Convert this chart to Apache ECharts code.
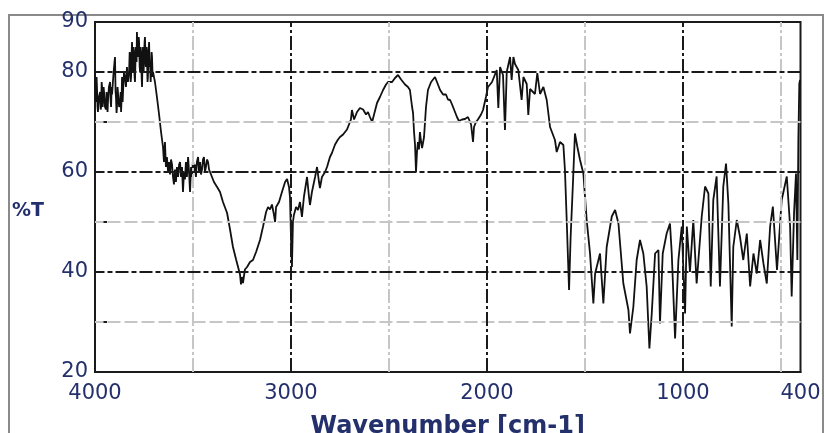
<!DOCTYPE html>
<html>
<head>
<meta charset="utf-8">
<script src="https://cdn.jsdelivr.net/npm/echarts@6/dist/echarts.min.js"></script>
<style>
  html, body { margin: 0; padding: 0; background: #fff; }
  #chart { width: 824px; height: 433px; }
</style>
</head>
<body>
<div id="chart"></div>
<script>
// IR transmission spectrum: wavenumber (cm-1) and %T
const wavenumber = [
  4000, 3997, 3995, 3992, 3990, 3987, 3985, 3980, 3974, 3971, 3969, 3966, 3964, 3961, 3959, 3956,
  3954, 3949, 3944, 3941, 3939, 3936, 3934, 3929, 3923, 3920, 3918, 3915, 3913, 3905, 3898, 3895,
  3893, 3890, 3888, 3885, 3883, 3877, 3872, 3869, 3867, 3864, 3862, 3859, 3857, 3852, 3847, 3842,
  3837, 3832, 3826, 3823, 3821, 3818, 3816, 3813, 3811, 3808, 3806, 3803, 3801, 3798, 3796, 3793,
  3791, 3788, 3786, 3783, 3780, 3777, 3775, 3772, 3770, 3767, 3765, 3762, 3760, 3757, 3755, 3752,
  3750, 3747, 3745, 3742, 3740, 3737, 3735, 3732, 3730, 3727, 3724, 3721, 3719, 3716, 3714, 3711,
  3709, 3706, 3704, 3694, 3684, 3673, 3663, 3653, 3648, 3643, 3638, 3633, 3627, 3622, 3617, 3612,
  3607, 3602, 3597, 3592, 3587, 3582, 3576, 3571, 3566, 3561, 3556, 3551, 3546, 3541, 3536, 3531,
  3525, 3520, 3515, 3510, 3505, 3500, 3495, 3490, 3485, 3480, 3474, 3469, 3464, 3459, 3454, 3449,
  3444, 3439, 3434, 3428, 3423, 3418, 3413, 3403, 3393, 3377,
  3362, 3347, 3326, 3311, 3296, 3280, 3270, 3260, 3255, 3250, 3245, 3235, 3224, 3209, 3194, 3178,
  3158, 3143, 3127, 3117, 3107, 3097, 3087, 3081, 3076, 3061, 3046, 3030, 3020, 3010, 3005, 3000,
  2995, 2990, 2985, 2974, 2964, 2954, 2944, 2934, 2918, 2908, 2903, 2893, 2877, 2867, 2857, 2852,
  2842, 2826, 2816, 2801, 2791, 2775, 2760, 2750, 2734, 2714, 2704, 2694, 2689, 2678, 2663, 2648,
  2632, 2617, 2607, 2597, 2586, 2576, 2561, 2546, 2530, 2515, 2505, 2495, 2484, 2469, 2454, 2438,
  2418, 2403, 2393, 2382, 2377, 2372, 2367, 2362, 2357, 2352, 2347, 2342, 2336, 2331, 2321, 2316,
  2311, 2301, 2285, 2275, 2265, 2255, 2239, 2224, 2209, 2199, 2188, 2178, 2163, 2153, 2143, 2127,
  2112, 2097, 2086, 2081, 2071, 2066, 2056, 2046, 2030, 2020, 2005, 1995, 1984, 1974, 1964, 1950,
  1942, 1933, 1918, 1908, 1899, 1882, 1874, 1865, 1857, 1840, 1823, 1814, 1797, 1789, 1780, 1755,
  1743, 1729, 1712, 1695, 1678, 1653, 1644, 1627, 1610, 1602, 1593, 1581, 1573, 1562, 1551, 1539,
  1525, 1508, 1491, 1474, 1457, 1448, 1423, 1406, 1389, 1363, 1346, 1329, 1304, 1278, 1270, 1253,
  1236, 1219, 1202, 1185, 1171, 1159, 1142, 1125, 1117, 1103, 1083, 1066, 1057, 1040, 1023, 1006,
  989, 980, 964, 947, 930, 904, 887, 870, 858, 845, 828, 811, 794, 780, 768, 751,
  743, 725, 709, 692, 674, 657, 640, 623, 606, 589, 572, 555, 541, 520, 496, 470,
  453, 445, 433, 423, 416, 411, 406, 402
];
const transmittance = [
  80.4, 76, 74, 79, 77, 73, 72, 75, 76, 72.5, 73, 78, 77, 73, 74.5, 77,
  76, 73, 72.5, 76, 75, 72, 74, 77, 78, 74, 73, 77, 75.5, 80, 83, 76,
  75, 71.8, 73, 77, 76, 73, 74, 76, 72, 75, 79, 74, 76, 80, 79, 77,
  81, 78, 80, 84, 83, 78, 79, 84, 86, 80, 82, 85, 84, 79, 78, 83,
  85, 82, 88, 84, 83, 87, 86, 81, 80, 85, 84, 79, 77, 83, 85, 80,
  82, 86, 87, 82, 81, 85, 84, 78, 79, 84, 86, 81, 82, 78, 80, 84,
  83, 79, 80, 78, 75, 71.5, 68, 65, 62, 66, 61, 63, 60, 62, 59.5, 62.5,
  61.5, 59, 57.5, 60.5, 58, 61, 59, 61.5, 62, 59, 61, 56, 60, 58.5, 62, 59,
  63, 60, 56, 61, 59, 62.5, 60, 61.5, 59, 62, 63, 60, 62, 59.5, 60.5, 62.5,
  63, 60, 61, 62.5, 62, 60.5, 60, 59, 58, 57,
  56, 54, 51.8, 48.5, 45, 42.5, 41, 39.5, 37.5, 39, 37.8, 40.5, 41, 42, 42.4, 44,
  46.4, 49, 52, 53, 52.5, 53.5, 51.5, 50, 53, 54, 56, 58, 58.6, 57, 55, 47,
  41, 50, 51.4, 53, 52.4, 54, 51, 55, 59, 55, 53.4, 56, 59, 61, 58, 56.8,
  59, 60, 61, 63, 63.8, 65.5, 66.5, 67, 67.5, 68.5, 69.5, 70.5, 72.4, 70.5, 72, 72.8,
  72.5, 71.5, 72, 71, 70, 71.5, 73.8, 75, 76.4, 77.5, 78, 78.4, 78, 78.8, 79.4, 78.5,
  77.5, 77, 76.4, 73, 71.8, 68, 65.5, 60, 64, 66, 64.5, 68, 66, 64.8, 67, 70,
  73, 76.4, 78, 78.5, 79, 78, 76.4, 75.5, 75.5, 74.5, 74.4, 73.5, 72, 71, 70.2, 70.5,
  70.6, 71, 70, 69.5, 66, 69, 70, 70.5, 71.5, 72.4, 75, 77, 77.5, 78, 79, 80.4,
  72.8, 81, 79.4, 68.4, 80, 83, 78.4, 83, 81.6, 80.4, 74.4, 79, 77.6, 71.4, 76.6, 75.6,
  79.8, 75.6, 77, 74.4, 69, 66.4, 64, 66, 65.4, 60.4, 50.4, 36.4, 47, 57, 67.7, 65.1,
  62.4, 59.7, 50.4, 43.7, 33.7, 39.7, 43.7, 33.7, 45, 51.1, 52.4, 49.7, 37.7, 32.4, 27.7, 33,
  42.4, 46.4, 43.7, 37.1, 24.7, 31.7, 43.7, 44.4, 29.7, 43.7, 47.7, 49.7, 43.7, 26.7, 42.4, 49.1,
  31.7, 49.1, 40, 50.4, 37.7, 51.1, 57.1, 55.7, 37.1, 54.4, 59.1, 37.1, 57.1, 61.7, 53.7, 29.1,
  45, 50.4, 47.1, 42.4, 47.7, 37.1, 43.7, 39.7, 46.4, 41.7, 37.7, 49.1, 53.1, 40.4, 54.4, 59.1,
  49.1, 35.1, 51.7, 59.7, 42.4, 66.4, 77.7, 78.4
];

// Axis labelling and grid positions
const xLabelValues = [4000, 3000, 2000, 1000, 400];
const xMinorTicks = [3500, 2500, 1500, 500];
const yLabelValues = [20, 40, 60, 80, 90];
const yMinorTicks = [30, 50, 70];
const xMajorGrid = [3000, 2000, 1000];
const xMinorGrid = [3500, 2500, 1500, 500];
const yMajorGrid = [80, 60, 40];
const yMinorGrid = [70, 50, 30];

const labelColor = '#23306b';
const ink = '#1a1a1a';
const faint = '#c6c6c6';

const gridLines = [].concat(
  yMinorGrid.map(v => ({ yAxis: v, lineStyle: { color: faint, width: 2, type: [13, 4] } })),
  xMinorGrid.map(v => ({ xAxis: v, lineStyle: { color: faint, width: 2, type: [14, 3, 3, 3] } })),
  yMajorGrid.map(v => ({ yAxis: v, lineStyle: { color: ink, width: 2, type: [13, 3, 5, 3] } })),
  xMajorGrid.map(v => ({ xAxis: v, lineStyle: { color: ink, width: 2, type: [14, 3, 3, 3] } }))
);

const chart = echarts.init(document.getElementById('chart'), null, { renderer: 'canvas' });
chart.setOption({
  animation: false,
  backgroundColor: '#fff',
  grid: {
    left: 95, right: 23.5, top: 22, bottom: 61,
    containLabel: false, outerBoundsMode: 'none',
    show: true, borderColor: ink, borderWidth: 2, backgroundColor: 'transparent'
  },
  xAxis: {
    type: 'value', min: 400, max: 4000, inverse: true,
    axisLine: { show: true, lineStyle: { color: ink, width: 2 } },
    axisTick: { show: true, inside: true, length: 9, customValues: xMinorTicks,
      lineStyle: { color: ink, width: 2 } },
    axisLabel: { customValues: xLabelValues, color: labelColor, fontSize: 21,
      fontFamily: 'DejaVu Sans', margin: 11, formatter: v => String(v) },
    splitLine: { show: false },
    name: 'Wavenumber [cm-1]', nameLocation: 'middle', nameGap: 43,
    nameTextStyle: { fontFamily: 'DejaVu Sans', fontWeight: 'bold', fontSize: 24, color: labelColor }
  },
  yAxis: {
    type: 'value', min: 20, max: 90, interval: 10,
    axisLine: { show: true, lineStyle: { color: ink, width: 2 } },
    axisTick: { show: true, inside: true, length: 12, customValues: yMinorTicks,
      lineStyle: { color: ink, width: 2 } },
    axisLabel: { customValues: yLabelValues, color: labelColor, fontSize: 21,
      fontFamily: 'DejaVu Sans', margin: 7, formatter: v => String(v) },
    splitLine: { show: false }
  },
  graphic: [
    { type: 'rect', silent: true, z: 0,
      shape: { x: 9, y: 15, width: 814, height: 440 },
      style: { fill: 'none', stroke: '#8a8a8a', lineWidth: 2 } },
    { type: 'text', left: 12, top: 202, silent: true,
      style: { text: '%T', font: 'bold 19px "DejaVu Sans"', fill: labelColor } }
  ],
  series: [
    {
      name: 'grid', type: 'line', data: [], z: 1, silent: true,
      markLine: { silent: true, symbol: ['none', 'none'], label: { show: false },
        emphasis: { disabled: true }, data: gridLines }
    },
    {
      name: '%T', type: 'line', z: 3, silent: true,
      data: wavenumber.map((w, i) => [w, transmittance[i]]),
      showSymbol: false, symbol: 'none',
      lineStyle: { color: '#111', width: 1.8 }
    }
  ]
});
</script>
</body>
</html>
